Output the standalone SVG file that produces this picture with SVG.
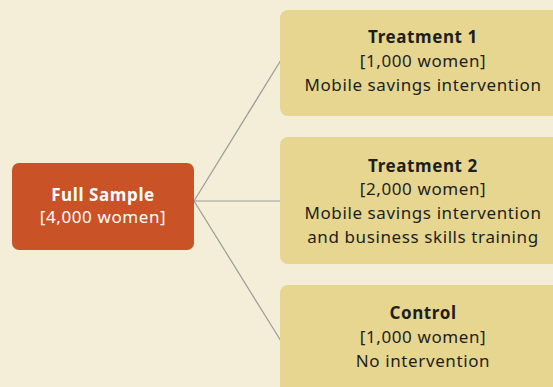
<svg xmlns="http://www.w3.org/2000/svg" width="553" height="387" viewBox="0 0 553 387">
<style>
text{font-family:"Noto Sans","Liberation Sans",sans-serif;font-size:17px;letter-spacing:0.6px;text-anchor:middle}
.b{font-weight:bold}
.dark{fill:#1e1e1e}
.light{fill:#ffffff}
.box{fill:#E6D690}
.root{fill:#C95226}
.conn{stroke:#9a9a9a;stroke-width:1.2;fill:none}
</style>
<rect width="553" height="387" fill="#F4EED8"/>
<g id="connectors">
<line class="conn" x1="194" y1="201" x2="281" y2="60"/>
<line class="conn" x1="194" y1="201" x2="281" y2="201"/>
<line class="conn" x1="194" y1="201" x2="281" y2="341"/>
</g>
<g id="full-sample">
<rect class="root" x="12" y="163" width="182" height="87" rx="7"/>
<text class="b light" x="103" y="201">Full Sample</text>
<text class="light" x="103" y="223">[4,000 women]</text>
</g>
<g id="treatment-1">
<rect class="box" x="280" y="10" width="290" height="106" rx="8"/>
<text class="b dark" x="423" y="43">Treatment 1</text>
<text class="dark" x="423" y="67">[1,000 women]</text>
<text class="dark" x="423" y="91">Mobile savings intervention</text>
</g>
<g id="treatment-2">
<rect class="box" x="280" y="137" width="290" height="127" rx="8"/>
<text class="b dark" x="423" y="172">Treatment 2</text>
<text class="dark" x="423" y="195">[2,000 women]</text>
<text class="dark" x="423" y="219">Mobile savings intervention</text>
<text class="dark" x="423" y="243">and business skills training</text>
</g>
<g id="control">
<rect class="box" x="280" y="285" width="290" height="115" rx="8"/>
<text class="b dark" x="423" y="319">Control</text>
<text class="dark" x="423" y="343">[1,000 women]</text>
<text class="dark" x="423" y="367">No intervention</text>
</g>
</svg>
